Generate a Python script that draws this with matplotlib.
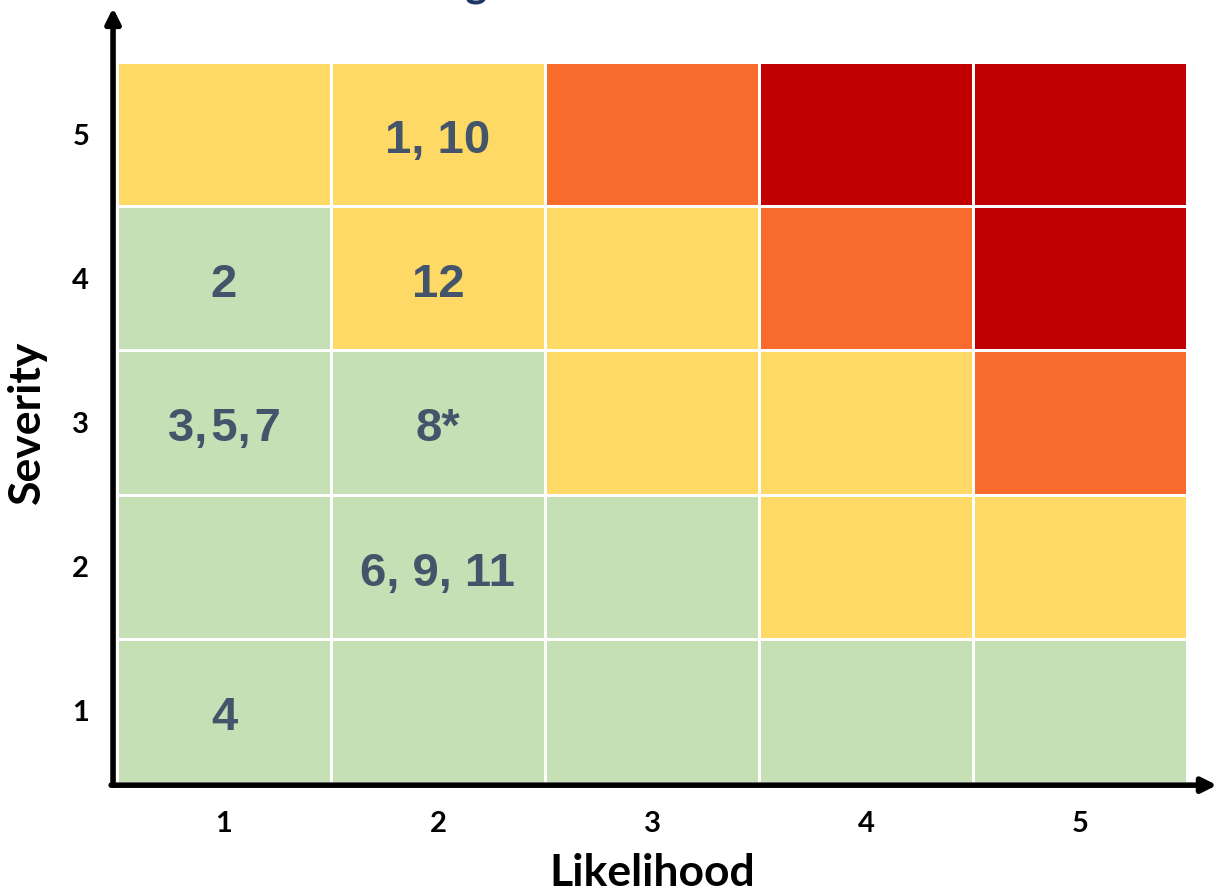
import numpy as np
import matplotlib.pyplot as plt
from matplotlib.colors import ListedColormap

plt.rcParams['font.family'] = ['Lato', 'DejaVu Sans']

likelihood = [1, 2, 3, 4, 5]
severity = [1, 2, 3, 4, 5]

# risk level per cell, rows = severity 1..5, cols = likelihood 1..5
# 0 = low (green), 1 = medium (yellow), 2 = high (orange), 3 = extreme (red)
risk_levels = np.array([
    [0, 0, 0, 0, 0],
    [0, 0, 0, 1, 1],
    [0, 0, 1, 1, 2],
    [0, 1, 1, 2, 3],
    [1, 1, 2, 3, 3],
])

# risk ids placed in cells: (likelihood, severity, label)
risk_items = [
    (2, 5, '1, 10'),
    (1, 4, '2'),
    (2, 4, '12'),
    (1, 3, '3,\u200a5,\u200a7'),
    (2, 3, '8*'),
    (2, 2, '6, 9, 11'),
    (1, 1, '4'),
]

level_colors = ['#C5E0B4', '#FED966', '#F86B2C', '#C00000']

fig = plt.figure(figsize=(12.17, 8.93), dpi=100)
ax = fig.add_axes([117 / 1217, 110 / 893, 1070 / 1217, 721 / 893])

edges_x = np.arange(0.5, 6.0, 1)
edges_y = np.arange(0.5, 6.0, 1)
ax.pcolormesh(edges_x, edges_y, risk_levels, cmap=ListedColormap(level_colors),
              vmin=-0.5, vmax=3.5, edgecolors='white', linewidth=2)

for x, y, label in risk_items:
    ax.annotate(label, (x, y), xytext=(0, -5), textcoords='offset points',
                ha='center', va='center', fontsize=34, fontweight='bold',
                color='#44546A', family=['Liberation Sans', 'DejaVu Sans'])

ax.set_xlim(0.5, 5.5)
ax.set_ylim(0.5, 5.5)
ax.set_xticks(likelihood)
ax.set_yticks(severity)
ax.tick_params(axis='x', length=0, labelsize=21, pad=20)
ax.tick_params(axis='y', length=0, labelsize=21, pad=20)
for lbl in ax.get_xticklabels() + ax.get_yticklabels():
    lbl.set_fontweight('bold')
for side in ax.spines.values():
    side.set_visible(False)

# axis arrows
ax.annotate('', xy=(-0.0037, 1.075), xytext=(-0.0037, -0.003), xycoords='axes fraction',
            arrowprops=dict(arrowstyle='-|>', lw=4, color='black', mutation_scale=22,
                            shrinkA=0, shrinkB=0))
ax.annotate('', xy=(1.028, -0.003), xytext=(-0.0055, -0.003), xycoords='axes fraction',
            arrowprops=dict(arrowstyle='-|>', lw=4, color='black', mutation_scale=22,
                            shrinkA=0, shrinkB=0))

ax.set_xlabel('Likelihood', fontsize=32, fontweight='bold', labelpad=12)
ax.set_ylabel('Severity', fontsize=32, fontweight='bold', labelpad=18)

# title sits mostly above the canvas, as in the source image
fig.text(0.37, 1.0 + 3 / 893, 'Risk Rating Matrix', ha='center', va='baseline', fontsize=30,
         fontweight='bold', color='#1F3864')

fig.savefig('out.png', dpi=100)
